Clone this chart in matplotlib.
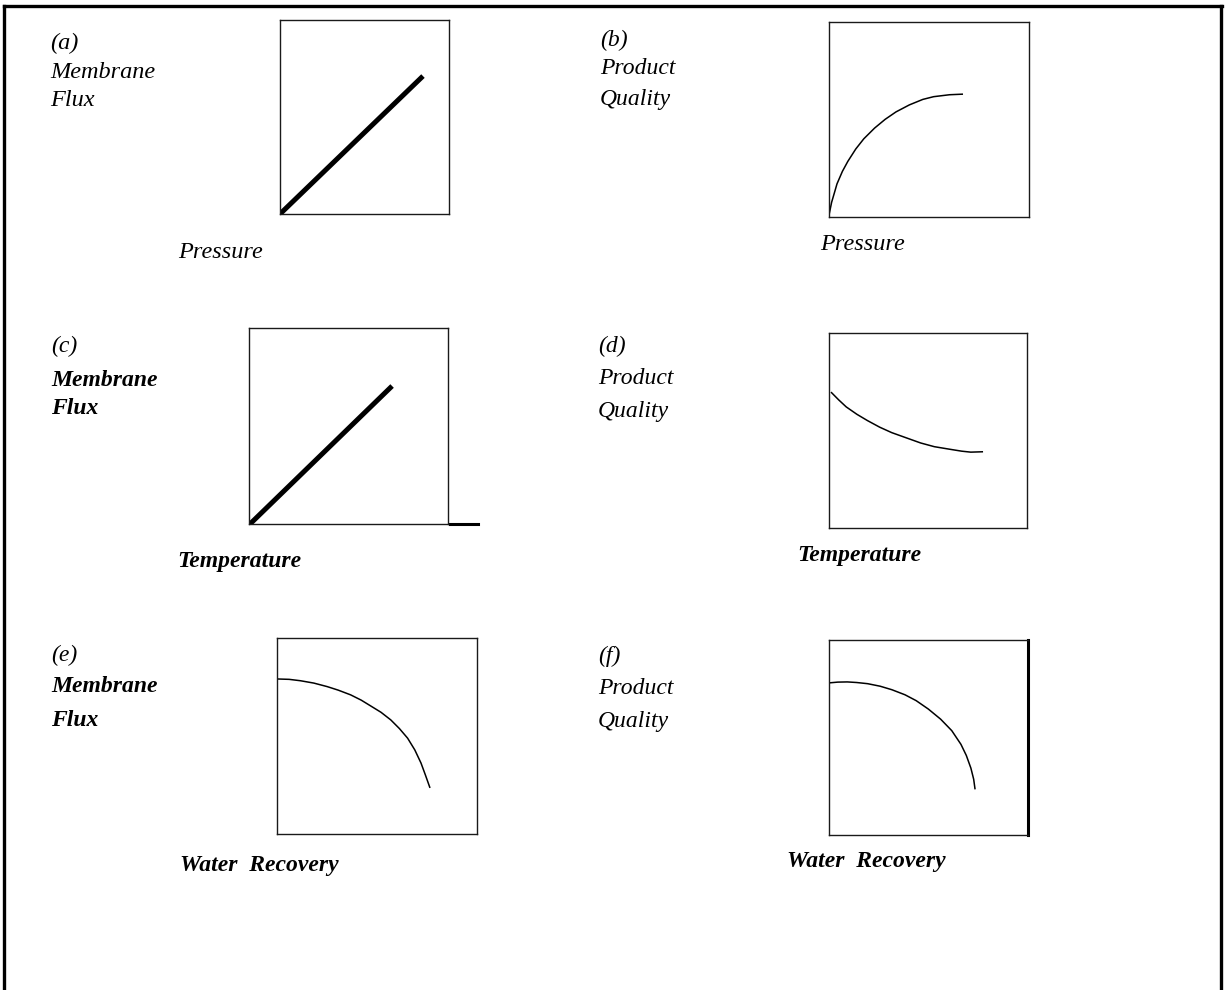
import matplotlib
matplotlib.use("Agg")
import matplotlib.pyplot as plt
from matplotlib.lines import Line2D

W, H = 1225, 990

# curves, in percent of each plot box (x from the left, y from the bottom)
flux_pressure_x = [0, 84.6]
flux_pressure_y = [0, 71.1]

quality_pressure_x = [0, 1.3, 2.7, 4.0, 6.7, 9.4, 13.4, 17.4, 22.8, 28.1, 33.5, 40.2, 46.9, 52.3, 60.3, 67.0]
quality_pressure_y = [1.0, 7.5, 12.4, 17.0, 23.4, 28.5, 34.9, 40.1, 45.6, 50.1, 53.9, 57.5, 60.3, 61.7, 62.7, 63.0]

flux_temp_x = [0.5, 71.9]
flux_temp_y = [0, 70.4]

quality_temp_x = [1.0, 4.9, 8.7, 14.1, 19.4, 25.6, 31.7, 39.4, 46.3, 53.2, 60.9, 67.0, 71.6, 77.8]
quality_temp_y = [69.7, 65.7, 62.1, 58.3, 55.1, 51.7, 48.9, 46.1, 43.6, 41.7, 40.4, 39.4, 38.9, 39.1]

flux_recovery_x = [0, 6.1, 11.7, 18.4, 25.1, 30.6, 36.8, 42.1, 46.9, 52.0, 56.9, 61.2, 65.3, 68.9, 72.0, 74.2, 76.5]
flux_recovery_y = [79.1, 78.9, 78.2, 77.0, 75.2, 73.4, 71.0, 68.3, 65.3, 62.1, 58.2, 53.8, 48.9, 42.9, 36.2, 30.1, 23.5]

quality_recovery_x = [0, 4.4, 9.2, 13.9, 19.4, 25.7, 31.6, 38.2, 43.8, 49.9, 56.1, 61.7, 66.3, 69.0, 71.3, 72.7, 73.4]
quality_recovery_y = [78.0, 78.4, 78.5, 78.2, 77.6, 76.3, 74.5, 71.9, 68.9, 64.6, 59.4, 53.5, 46.5, 40.8, 34.3, 28.6, 23.4]

letters = ["(a)", "(b)", "(c)", "(d)", "(e)", "(f)"]
y_titles = [["Membrane", "Flux"], ["Product", "Quality"],
            ["Membrane", "Flux"], ["Product", "Quality"],
            ["Membrane", "Flux"], ["Product", "Quality"]]
x_titles = ["Pressure", "Pressure", "Temperature", "Temperature",
            "Water  Recovery", "Water  Recovery"]

curves = [(flux_pressure_x, flux_pressure_y, 3.6),
          (quality_pressure_x, quality_pressure_y, 1.1),
          (flux_temp_x, flux_temp_y, 3.6),
          (quality_temp_x, quality_temp_y, 1.1),
          (flux_recovery_x, flux_recovery_y, 1.1),
          (quality_recovery_x, quality_recovery_y, 1.1)]

# layout in pixels: box (left, top, right, bottom), label column x,
# label rows y, x-title position, text weight and size
boxes = [(280, 20, 449, 214), (829, 22, 1029, 217),
         (249, 328, 448, 524), (829, 333, 1027, 528),
         (277, 638, 477, 834), (829, 640, 1028, 835)]
label_x = [50, 600, 51, 598, 51, 598]
label_y = [(43, 72, 100), (40, 69, 100),
           (346, 381, 409), (346, 379, 412),
           (655, 687, 720), (656, 689, 722)]
xtitle_pos = [(178, 253), (820, 245), (177, 561), (797, 555), (180, 866), (787, 862)]
ylab_bold = [False, False, True, False, True, False]
xlab_bold = [False, False, True, True, True, True]
ylab_size = [17.5, 17, 17, 17, 17, 17]
xlab_size = [17.5, 17.5, 17, 17, 17, 17]

SERIF = ["Liberation Serif", "DejaVu Serif"]

fig = plt.figure(figsize=(W / 100, H / 100), dpi=100)


def fx(px):
    return px / W


def fy(py):
    return 1 - py / H


for i in range(6):
    l, t, r, b = boxes[i]
    ax = fig.add_axes([fx(l), fy(b), (r - l) / W, (b - t) / H])
    x, y, lw = curves[i]
    ax.plot(x, y, color="black", lw=lw, solid_capstyle="butt")
    ax.set_xlim(0, 100)
    ax.set_ylim(0, 100)
    ax.set_xticks([])
    ax.set_yticks([])
    for s in ax.spines.values():
        s.set_linewidth(1.0)
        s.set_color("#1a1a1a")
    if i == 5:
        ax.spines["right"].set_linewidth(2.2)
        ax.spines["right"].set_color("black")
    if i == 2:
        # short stub continuing the baseline
        ax.plot([1.01, 1.15], [0, 0], color="black", lw=2.2,
                transform=ax.transAxes, clip_on=False)

    w_y = "bold" if ylab_bold[i] else "normal"
    rows = [letters[i]] + y_titles[i]
    for txt, py in zip(rows, label_y[i]):
        fig.text(fx(label_x[i]), fy(py), txt, family=SERIF, style="italic",
                 weight="normal" if txt == letters[i] else w_y,
                 fontsize=ylab_size[i], ha="left", va="center")

    tx, ty = xtitle_pos[i]
    fig.text(fx(tx), fy(ty), x_titles[i], family=SERIF, style="italic",
             weight="bold" if xlab_bold[i] else "normal",
             fontsize=xlab_size[i], ha="left", va="center")

# outer frame: top, left and right rules
for xs, ys in [([4, 1222], [6, 6]), ([4, 4], [6, 990]), ([1221, 1221], [6, 990])]:
    fig.add_artist(Line2D([fx(v) for v in xs], [fy(v) for v in ys],
                          color="black", lw=2.4))

fig.savefig("out.png", dpi=100, facecolor="white")
